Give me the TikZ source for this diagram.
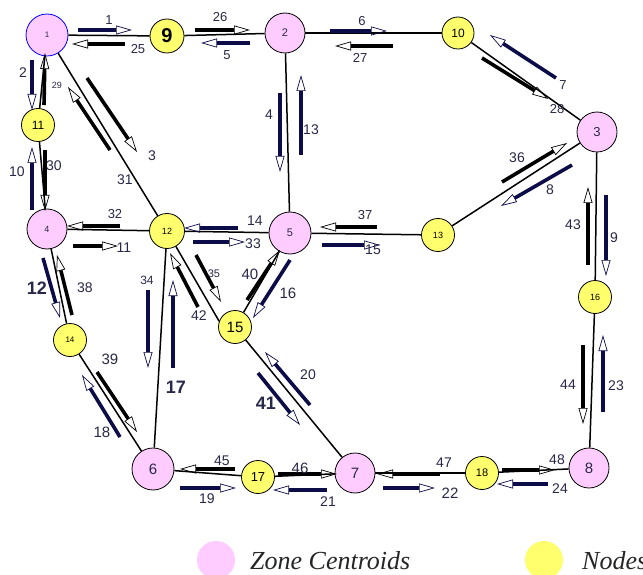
\documentclass[tikz,border=0pt]{standalone}
\usepackage{fontspec}
\setmainfont{Liberation Sans}
\newfontfamily\legendfont{Liberation Serif}
\usetikzlibrary{arrows.meta}
\definecolor{navyc}{RGB}{12,12,72}
\definecolor{labc}{RGB}{40,40,72}
\definecolor{zonec}{RGB}{255,204,255}
\definecolor{nodec}{RGB}{255,255,110}
\begin{document}
\begin{tikzpicture}[x=1pt,y=-1pt,
  link/.style={line width=1.5pt},
  zone/.style={circle,draw=black,line width=0.8pt,fill=zonec,minimum size=40pt,inner sep=0pt,text=labc},
  junc/.style={circle,draw=black,line width=0.8pt,fill=nodec,minimum size=33pt,inner sep=0pt,text=black},
  flow/.style={line width=3.6pt,-{Triangle[open,length=16pt,width=9pt,line width=0.7pt]}},
  fn/.style={flow,draw=navyc},
  fb/.style={flow,draw=black},
  lab/.style={text=labc,font=\fontsize{13}{13}\selectfont,inner sep=0pt},
  leg/.style={circle,minimum size=38pt,inner sep=0pt},
  legtext/.style={anchor=base west,inner sep=0pt,font=\legendfont\itshape\fontsize{26}{26}\selectfont,text=black!85}
]
\useasboundingbox[fill=white] (0,0) rectangle (643,575);

% nodes
\node[zone,draw=blue,minimum size=42pt] (n1) at (47,35) {\fontsize{8}{8}\selectfont 1};
\node[junc,minimum size=34pt] (n9) at (167,36) {\fontsize{20}{20}\selectfont\bfseries 9};
\node[zone] (n2) at (285,33) {\fontsize{11}{11}\selectfont 2};
\node[junc,minimum size=32pt] (n10) at (458,33) {\fontsize{12}{12}\selectfont 10};
\node[zone] (n3) at (597,132) {\fontsize{13}{13}\selectfont 3};
\node[junc] (n11) at (38,125) {\fontsize{12}{12}\selectfont 11};
\node[zone] (n4) at (47,229) {\fontsize{9}{9}\selectfont 4};
\node[junc,minimum size=35pt] (n12) at (167,231) {\fontsize{9}{9}\selectfont 12};
\node[zone,minimum size=42pt] (n5) at (290,233) {\fontsize{11}{11}\selectfont 5};
\node[junc] (n13) at (438,235) {\fontsize{9}{9}\selectfont 13};
\node[junc] (n16) at (595,297) {\fontsize{9}{9}\selectfont 16};
\node[junc] (n15) at (235,327) {\fontsize{15}{15}\selectfont 15};
\node[junc] (n14) at (70,340) {\fontsize{8}{8}\selectfont 14};
\node[zone,minimum size=42pt] (n6) at (153,469) {\fontsize{15}{15}\selectfont 6};
\node[junc] (n17) at (258,477) {\fontsize{13}{13}\selectfont 17};
\node[zone] (n7) at (355,473) {\fontsize{15}{15}\selectfont 7};
\node[junc] (n18) at (482,473) {\fontsize{11}{11}\selectfont 18};
\node[zone] (n8) at (589,468) {\fontsize{15}{15}\selectfont 8};

% links
\draw[link] (n1) -- (n9);
\draw[link] (n9) -- (n2);
\draw[link] (n2) -- (n10);
\draw[link] (n10) -- (n3);
\draw[link] (n1) -- (n11);
\draw[link] (n11) -- (n4);
\draw[link] (n1) -- (n12);
\draw[link] (n2) -- (n5);
\draw[link] (n13) -- (n3);
\draw[link] (n3) -- (n16);
\draw[link] (n4) -- (n12);
\draw[link] (n12) -- (n5);
\draw[link] (n5) -- (n13);
\draw[link] (n4) -- (n14);
\draw[link] (n12) -- (n6);
\draw[link] (n12) -- (n15.160);
\draw[link] (n5) -- (n15);
\draw[link] (n14) -- (n6);
\draw[link] (n15) -- (n7);
\draw[link] (n6) -- (n17);
\draw[link] (n17) -- (n7);
\draw[link] (n7) -- (n18);
\draw[link] (n18) -- (n8);
\draw[link] (n16) -- (n8);

% flow arrows
\draw[fn] (78,30) -- (132,30);
\draw[fb] (125,44) -- (72,44);
\draw[fb] (195,30) -- (250,30);
\draw[fn] (250,43) -- (201,43);
\draw[fn] (330,31) -- (387,31);
\draw[fb] (393,46) -- (335,46);
\draw[fn] (556,78) -- (490,35);
\draw[fb] (482,58) -- (548,99);
\draw[fb] (502,182) -- (567,143);
\draw[fn] (572,165) -- (501,206);
\draw[fb] (588,265) -- (588,187);
\draw[fn] (606,195) -- (606,276);
\draw[fb] (583,345) -- (583,424);
\draw[fn] (603,412) -- (603,335);
\draw[fn] (32,60) -- (32,110);
\draw[fb] (44,105) -- (45,53);
\draw[fn] (32,210) -- (32,147);
\draw[fb] (45,150) -- (45,211);
\draw[fb] (87,78) -- (137,152);
\draw[fb] (110,150) -- (68,87);
\draw[fn] (280,93) -- (280,172);
\draw[fn] (301,155) -- (301,75);
\draw[fb] (120,226) -- (67,226);
\draw[fb] (73,246) -- (118,246);
\draw[fn] (238,228) -- (184,228);
\draw[fn] (193,242) -- (245,242);
\draw[fb] (377,227) -- (320,227);
\draw[fn] (322,245) -- (380,245);
\draw[fb] (247,300) -- (280,250);
\draw[fn] (290,260) -- (253,318);
\draw[fb] (196,255) -- (221,302);
\draw[fb] (198,307) -- (170,253);
\draw[fn] (148,290) -- (148,368);
\draw[fn] (173,368) -- (173,280);
\draw[fn] (43,258) -- (60,318);
\draw[fb] (72,315) -- (57,255);
\draw[fb] (97,372) -- (137,432);
\draw[fn] (120,437) -- (82,375);
\draw[fn] (310,405) -- (265,352);
\draw[fn] (258,373) -- (300,425);
\draw[fb] (235,469) -- (180,469);
\draw[fn] (180,488) -- (236,488);
\draw[fb] (278,474) -- (337,474);
\draw[fn] (327,490) -- (273,490);
\draw[fb] (440,474) -- (377,474);
\draw[fn] (383,488) -- (435,488);
\draw[fb] (502,470) -- (555,470);
\draw[fn] (548,484) -- (497,484);

% flow labels
\node[lab] (l1) at (109,20) {1};
\node[lab] (l25) at (138,49) {25};
\node[lab] (l26) at (220,17) {26};
\node[lab] (l5) at (227,55) {5};
\node[lab] (l6) at (362,21) {6};
\node[lab] (l27) at (360,58) {27};
\node[lab] (l7) at (563,85) {7};
\node[lab] (l28) at (557,109) {28};
\node[lab,font=\fontsize{14}{14}\selectfont] (l36) at (517,158) {36};
\node[lab,font=\fontsize{14}{14}\selectfont] (l8) at (550,190) {8};
\node[lab,font=\fontsize{14}{14}\selectfont] (l43) at (573,225) {43};
\node[lab,font=\fontsize{14}{14}\selectfont] (l9) at (614,238) {9};
\node[lab,font=\fontsize{14}{14}\selectfont] (l44) at (568,385) {44};
\node[lab,font=\fontsize{14}{14}\selectfont] (l23) at (616,386) {23};
\node[lab,font=\fontsize{14}{14}\selectfont] (l2) at (23,73) {2};
\node[lab,font=\fontsize{9}{9}\selectfont] (l29) at (57,85) {29};
\node[lab,font=\fontsize{14}{14}\selectfont] (l10) at (17,172) {10};
\node[lab,font=\fontsize{14}{14}\selectfont] (l30) at (54,166) {30};
\node[lab,font=\fontsize{14}{14}\selectfont] (l3) at (152,156) {3};
\node[lab,font=\fontsize{14}{14}\selectfont] (l31) at (125,180) {31};
\node[lab,font=\fontsize{14}{14}\selectfont] (l4) at (269,115) {4};
\node[lab,font=\fontsize{14}{14}\selectfont] (l13) at (311,130) {13};
\node[lab] (l32) at (115,214) {32};
\node[lab,font=\fontsize{14}{14}\selectfont] (l11) at (124,248) {11};
\node[lab,font=\fontsize{14}{14}\selectfont] (l14) at (255,221) {14};
\node[lab,font=\fontsize{14}{14}\selectfont] (l33) at (253,244) {33};
\node[lab] (l37) at (365,215) {37};
\node[lab,font=\fontsize{14}{14}\selectfont] (l15) at (373,250) {15};
\node[lab,font=\fontsize{15}{15}\selectfont] (l40) at (250,274) {40};
\node[lab,font=\fontsize{15}{15}\selectfont] (l16) at (288,293) {16};
\node[lab,font=\fontsize{11}{11}\selectfont] (l35) at (214,274) {35};
\node[lab,font=\fontsize{14}{14}\selectfont] (l42) at (199,316) {42};
\node[lab,font=\fontsize{12}{12}\selectfont] (l34) at (147,280) {34};
\node[lab,font=\fontsize{18}{18}\selectfont\bfseries] (l17) at (176,387) {17};
\node[lab,font=\fontsize{18}{18}\selectfont\bfseries] (l12) at (37,288) {12};
\node[lab,font=\fontsize{14}{14}\selectfont] (l38) at (85,288) {38};
\node[lab,font=\fontsize{15}{15}\selectfont] (l39) at (110,359) {39};
\node[lab,font=\fontsize{15}{15}\selectfont] (l18) at (102,432) {18};
\node[lab,font=\fontsize{14}{14}\selectfont] (l20) at (308,375) {20};
\node[lab,font=\fontsize{18}{18}\selectfont\bfseries] (l41) at (266,403) {41};
\node[lab,font=\fontsize{14}{14}\selectfont] (l45) at (222,461) {45};
\node[lab,font=\fontsize{14}{14}\selectfont] (l19) at (207,499) {19};
\node[lab,font=\fontsize{15}{15}\selectfont] (l46) at (300,468) {46};
\node[lab,font=\fontsize{14}{14}\selectfont] (l21) at (328,502) {21};
\node[lab,font=\fontsize{14}{14}\selectfont] (l47) at (444,463) {47};
\node[lab,font=\fontsize{15}{15}\selectfont] (l22) at (450,493) {22};
\node[lab,font=\fontsize{14}{14}\selectfont] (l48) at (557,460) {48};
\node[lab,font=\fontsize{14}{14}\selectfont] (l24) at (560,489) {24};

% legend
\node[leg,fill=zonec] (lz) at (216,560) {};
\node[legtext] (lzt) at (250,569) {Zone Centroids};
\node[leg,fill=nodec] (ln) at (544,560) {};
\node[legtext] (lnt) at (582,569) {Nodes};
\end{tikzpicture}
\end{document}
